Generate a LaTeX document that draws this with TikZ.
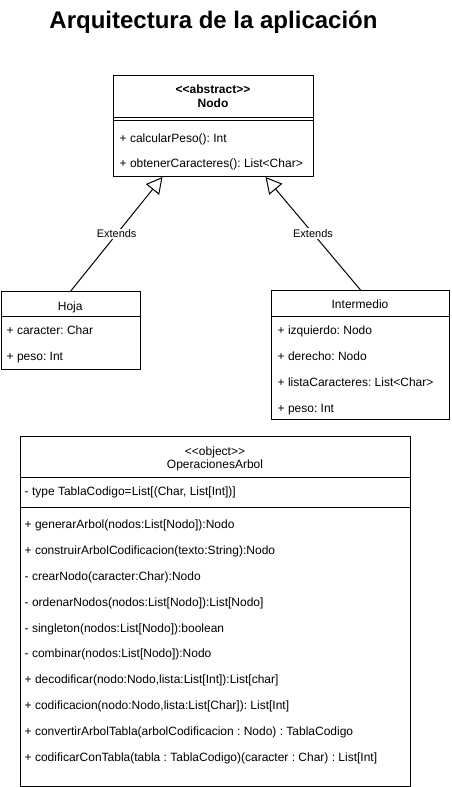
\documentclass[tikz,border=0pt]{standalone}
\usepackage{fontspec}
\setmainfont{Liberation Sans}[Ligatures=TeXOff]
\usetikzlibrary{arrows.meta,calc}
\frenchspacing
\begin{document}
\begin{tikzpicture}[x=1pt,y=-1pt,
  box/.style={draw,line width=1pt,inner sep=0pt,anchor=north west},
  mem/.style={anchor=base west,inner sep=0pt,font=\fontsize{12pt}{14pt}\selectfont},
  hdr/.style={anchor=base,inner sep=0pt,font=\fontsize{12pt}{14pt}\selectfont},
  sep/.style={line width=1pt},
  ext/.style={line width=1pt,-{Triangle[length=16pt,width=17pt,fill=white]}},
  lbl/.style={fill=white,inner sep=1pt,font=\fontsize{11pt}{13pt}\selectfont}
]
\useasboundingbox[fill=white] (0,0) rectangle (451,787);

\node[anchor=base,inner sep=0pt,font=\bfseries\fontsize{24pt}{28pt}\selectfont] (title) at (213.5,28) {Arquitectura de la aplicación};

% Nodo
\node[box,minimum width=200pt,minimum height=101pt] (nodo) at (113,75) {};
\node[hdr,font=\bfseries\fontsize{12pt}{14pt}\selectfont] (nodost) at (213,93.6) {<<abstract>>};
\node[hdr,font=\bfseries\fontsize{12pt}{14pt}\selectfont] (nodoname) at (213,107.6) {Nodo};
\draw[sep] (nodo.west |- 0,117) -- (nodo.east |- 0,117);
\draw[sep] (nodo.west |- 0,120) -- (nodo.east |- 0,120);
\node[mem] (n1) at (119.5,142.3) {+ calcularPeso(): Int};
\node[mem] (n2) at (119.5,167.3) {+ obtenerCaracteres(): List<Char>};

% Hoja
\node[box,minimum width=139.5pt,minimum height=78pt] (hoja) at (0.5,291) {};
\node[hdr] (hojaname) at (70.25,310.3) {Hoja};
\draw[sep] (hoja.west |- 0,316.5) -- (hoja.east |- 0,316.5);
\node[mem] (h1) at (6.5,334.4) {+ caracter: Char};
\node[mem] (h2) at (6.5,360.3) {+ peso: Int};

% Intermedio
\node[box,minimum width=178pt,minimum height=129pt] (inter) at (271,290) {};
\node[hdr] (intername) at (360,308.3) {Intermedio};
\draw[sep] (inter.west |- 0,316.5) -- (inter.east |- 0,316.5);
\node[mem] (i1) at (277.5,334.6) {+ izquierdo: Nodo};
\node[mem] (i2) at (277.5,360.3) {+ derecho: Nodo};
\node[mem] (i3) at (277.5,386.0) {+ listaCaracteres: List<Char>};
\node[mem] (i4) at (277.5,412.0) {+ peso: Int};

% Inheritance
\coordinate (nl) at ([xshift=-51pt]nodo.south);
\coordinate (nr) at ([xshift=52pt]nodo.south);
\draw[ext] (hoja.north) -- node[lbl,pos=0.5] (e1) {Extends} (nl);
\draw[ext] (inter.north) -- node[lbl,pos=0.5] (e2) {Extends} (nr);

% OperacionesArbol
\node[box,minimum width=390pt,minimum height=350pt] (ops) at (20,436) {};
\node[hdr] (opsst) at (215,455) {<<object>>};
\node[hdr] (opsname) at (215,468.6) {OperacionesArbol};
\draw[sep] (ops.west |- 0,477) -- (ops.east |- 0,477);
\node[mem] (o0) at (24.5,495.3) {- type TablaCodigo=List[(Char, List[Int])]};
\draw[sep] (ops.west |- 0,507) -- (ops.east |- 0,507);
\node[mem] (o1) at (24.5,528.6) {+ generarArbol(nodos:List[Nodo]):Nodo};
\node[mem] (o2) at (24.5,554.4) {+ construirArbolCodificacion(texto:String):Nodo};
\node[mem] (o3) at (24.5,580.3) {- crearNodo(caracter:Char):Nodo};
\node[mem] (o4) at (24.5,606.2) {- ordenarNodos(nodos:List[Nodo]):List[Nodo]};
\node[mem] (o5) at (24.5,632.0) {- singleton(nodos:List[Nodo]):boolean};
\node[mem] (o6) at (24.5,657.8) {- combinar(nodos:List[Nodo]):Nodo};
\node[mem] (o7) at (24.5,683.7) {+ decodificar(nodo:Nodo,lista:List[Int]):List[char]};
\node[mem] (o8) at (24.5,709.5) {+ codificacion(nodo:Nodo,lista:List[Char]): List[Int]};
\node[mem] (o9) at (24.5,735.4) {+ convertirArbolTabla(arbolCodificacion : Nodo) : TablaCodigo};
\node[mem] (o10) at (24.5,761.2) {+ codificarConTabla(tabla : TablaCodigo)(caracter : Char) : List[Int]};
\end{tikzpicture}
\end{document}
